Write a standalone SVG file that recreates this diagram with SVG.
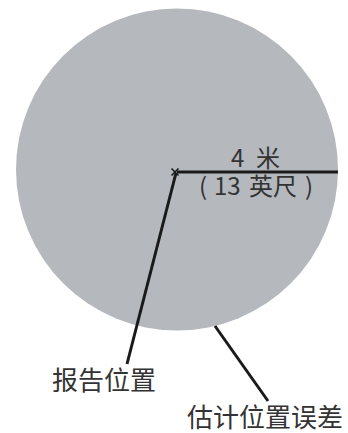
<svg xmlns="http://www.w3.org/2000/svg" width="348" height="433" viewBox="0 0 348 433">
<style>
.lbl{font-family:"Noto Sans CJK SC","Noto Sans",sans-serif;fill:#333333}
.ln{stroke:#1a1a1a;stroke-width:3;fill:none;stroke-linecap:butt}
</style>
<rect width="348" height="433" fill="#ffffff"/>
<g id="area">
<circle cx="177" cy="169.5" r="161" fill="#b5b9be"/>
</g>
<g id="center">
<path d="M171.5,168.5 L178.5,175.5 M178.5,168.5 L171.5,175.5" stroke="#1a1a1a" stroke-width="1.6"/>
</g>
<g id="connectors">
<line class="ln" x1="177" y1="172" x2="338" y2="172"/>
<line class="ln" x1="176" y1="173" x2="127" y2="364"/>
<line class="ln" x1="215" y1="326" x2="268" y2="401"/>
</g>
<g id="radius-label">
<text class="lbl" font-size="24" y="167"><tspan x="231">4</tspan><tspan x="256">米</tspan></text>
<text class="lbl" font-size="24" y="195"><tspan x="199">(</tspan><tspan x="214">13</tspan><tspan x="249">英尺</tspan><tspan x="305">)</tspan></text>
</g>
<g id="reported">
<text class="lbl" x="52" y="390" font-size="26">报告位置</text>
</g>
<g id="estimated">
<text class="lbl" x="187" y="427" font-size="26">估计位置误差</text>
</g>
</svg>
